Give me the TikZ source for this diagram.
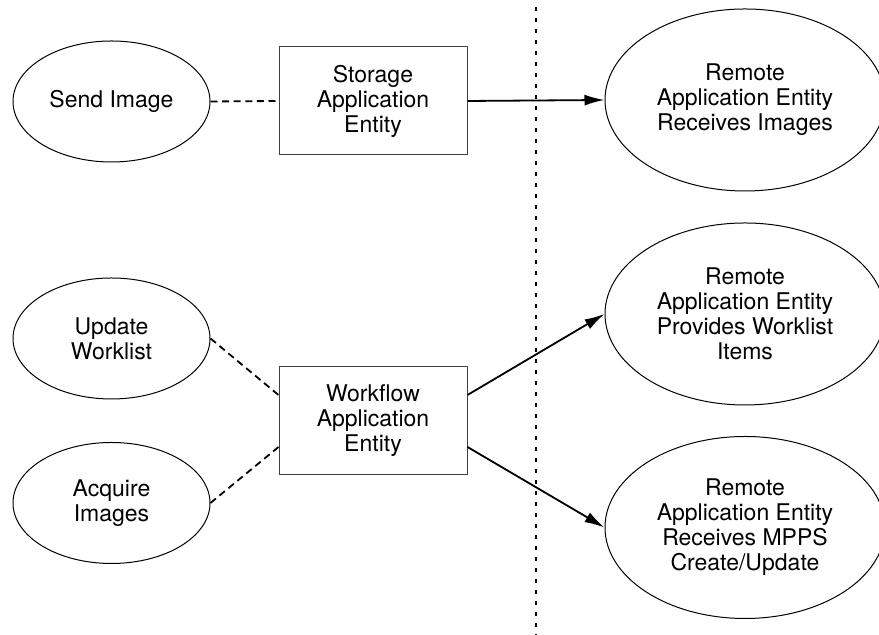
\documentclass[tikz,border=0pt]{standalone}
\usepackage{fontspec}
\setmainfont{TeX Gyre Heros}
\usetikzlibrary{shapes.geometric, arrows.meta}
\tikzset{usecase/.style = {draw, ellipse, line width = 0.5pt, inner sep = 0, minimum width = 98.5pt, minimum height = 60.5pt, align = center, font = \fontsize{11.5}{12.5}\selectfont}}
\tikzset{remote/.style = {usecase, minimum width = 140pt, minimum height = 91pt}}
\tikzset{entity/.style = {draw = black!75, rectangle, line width = 0.5pt, minimum width = 94pt, minimum height = 54pt, align = center, font = \fontsize{11.5}{12.5}\selectfont}}
\tikzset{assoc/.style = {line width = 0.9pt, dash pattern = on 3.5pt off 2.3pt}}
\tikzset{flow/.style = {line width = 0.9pt, -{Latex[length = 10pt, width = 5.5pt]}}}

\begin{document}
\begin{tikzpicture}[x = 0.5pt, y = 0.5pt]
    \useasboundingbox (0, 0) rectangle (879, 635);

    % system boundary
    \draw [line width = 0.9pt, dash pattern = on 2.2pt off 3.3pt] (536, 628) -- (536, 0);

    \node [usecase] (send) at (111.5, 533.5) {Send Image};
    \node [usecase] (upd) at (111.5, 296.5) {Update\\Worklist};
    \node [usecase] (acq) at (111.5, 132) {Acquire\\Images};

    \node [entity] (store) at (373, 534) {Storage\\Application\\Entity};
    \node [entity] (wf) at (373, 214) {Workflow\\Application\\Entity};

    \node [remote] (recv) at (745, 535) {Remote\\Application Entity\\Receives Images};
    \node [remote] (prov) at (745, 321) {Remote\\Application Entity\\Provides Worklist\\Items};
    \node [remote] (mpps) at (745, 107.5) {Remote\\Application Entity\\Receives MPPS\\Create/Update};

    \draw [assoc] (send.east) -- (store.west);
    \draw [assoc] (upd.east) -- ([yshift = 13pt]wf.west);
    \draw [assoc] (acq.east) -- ([yshift = -13pt]wf.west);

    \draw [flow] (store.east) -- (recv.west);
    \draw [flow] ([yshift = 13pt]wf.east) -- (prov.west);
    \draw [flow] ([yshift = -13pt]wf.east) -- (mpps.west);
  \end{tikzpicture}
\end{document}
